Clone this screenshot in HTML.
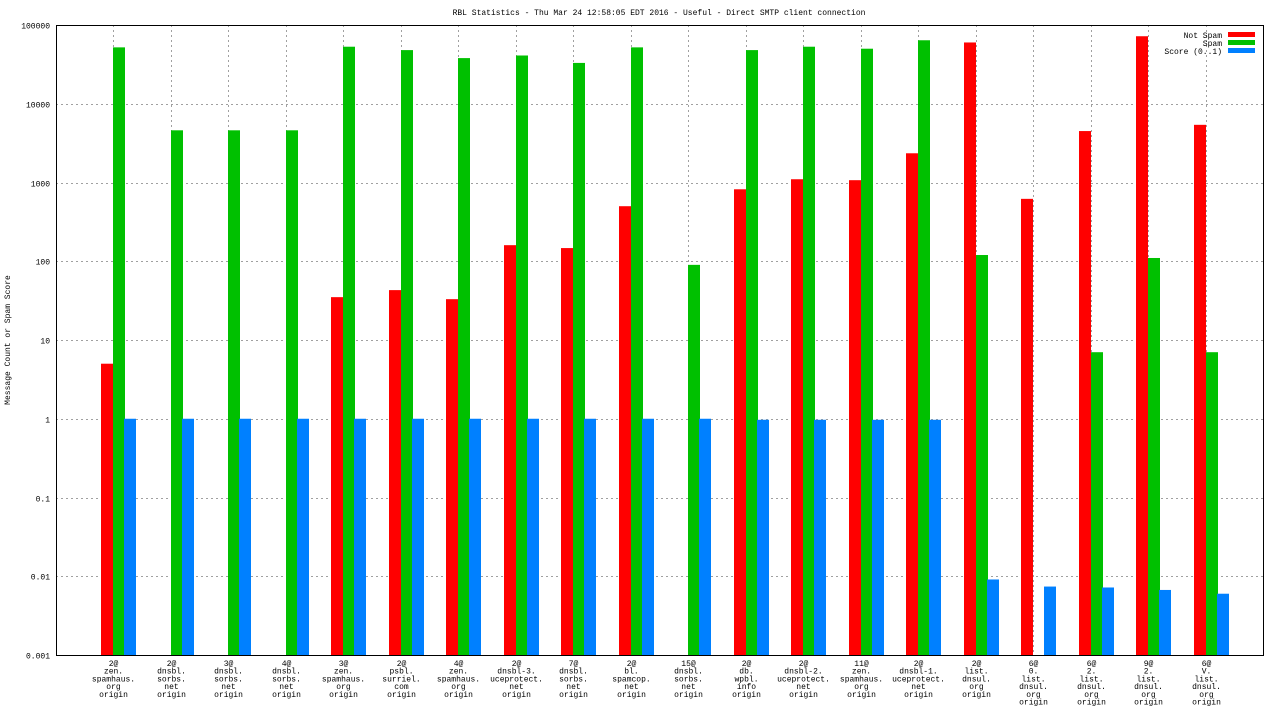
<!DOCTYPE html>
<html><head><meta charset="utf-8"><style>
body{margin:0;background:#fff;}
svg text{font-family:"Liberation Mono",monospace;font-size:8px;fill:#000;}
</style></head><body>
<svg id="chart" width="1280" height="720" xmlns="http://www.w3.org/2000/svg"></svg>
<script>
const categories=[
["2@","zen.","spamhaus.","org","origin"],["2@","dnsbl.","sorbs.","net","origin"],["3@","dnsbl.","sorbs.","net","origin"],["4@","dnsbl.","sorbs.","net","origin"],["3@","zen.","spamhaus.","org","origin"],["2@","psbl.","surriel.","com","origin"],["4@","zen.","spamhaus.","org","origin"],["2@","dnsbl-3.","uceprotect.","net","origin"],["7@","dnsbl.","sorbs.","net","origin"],["2@","bl.","spamcop.","net","origin"],["15@","dnsbl.","sorbs.","net","origin"],["2@","db.","wpbl.","info","origin"],["2@","dnsbl-2.","uceprotect.","net","origin"],["11@","zen.","spamhaus.","org","origin"],["2@","dnsbl-1.","uceprotect.","net","origin"],["2@","list.","dnsul.","org","origin"],["6@","0.","list.","dnsul.","org","origin"],["6@","2.","list.","dnsul.","org","origin"],["9@","2.","list.","dnsul.","org","origin"],["6@","V.","list.","dnsul.","org","origin"]];
const notSpam=[5,null,null,null,35,43,33,160,147,500,null,820,1100,1070,2350,60000,620,4500,72000,5400];
const spam=[52000,4600,4600,4600,53000,48000,38000,41000,33000,52000,90,48000,53000,50000,64000,120,null,7,110,7];
const score=[1,1,1,1,1,1,1,1,1,1,1,0.97,0.97,0.97,0.97,0.0091,0.0074,0.0072,0.0067,0.006];
const yTicks=[0.001,0.01,0.1,1,10,100,1000,10000,100000];
const yTickLabels=["0.001","0.01","0.1","1","10","100","1000","10000","100000"];

const svg=document.getElementById('chart');const NS='http://www.w3.org/2000/svg';
const L=56,R=1263,T=25,B=655;
const x=i=>L+(R-L)/21*(i+1);
const y=v=>B-(Math.log10(v)+3)/8*(B-T);
function mk(tag,attrs,parent){const e=document.createElementNS(NS,tag);for(const k in attrs)e.setAttribute(k,attrs[k]);(parent||svg).appendChild(e);return e;}
yTicks.forEach((v,i)=>{const yy=Math.round(y(v))+0.5;
 if(i>0&&i<yTicks.length-1){const g=mk('line',{x1:L,x2:R,y1:yy,y2:yy,stroke:'#a0a0a0','stroke-dasharray':'2,3','stroke-width':1});
 
 }
 const t=mk('text',{x:L-6,y:yy+3,'text-anchor':'end'});t.textContent=yTickLabels[i];
 
 });
categories.forEach((c,i)=>{const xx=Math.round(x(i))+0.5;
 const g=mk('line',{x1:xx,x2:xx,y1:T,y2:B,stroke:'#a0a0a0','stroke-dasharray':'2,3','stroke-width':1});
 
 
 c.forEach((ln,j)=>{const t=mk('text',{x:xx,y:666+j*7.7,'text-anchor':'middle'});t.textContent=ln;
 
 });});
const series=[[notSpam,'#ff0000',-12,'bar-not-spam'],[spam,'#00c000',0,'bar-spam'],[score,'#0080ff',11,'bar-score']];
series.forEach(([vals,col,off,name])=>{vals.forEach((v,i)=>{if(v==null)return;
 const x0=Math.round(x(i))+off,yt=y(v);
 const r=mk('rect',{x:x0,y:yt,width:12,height:B-yt,fill:col});
 
 });});
const bd=mk('rect',{x:L+0.5,y:T+0.5,width:R-L,height:B-T,fill:'none',stroke:'#000'});


const ti=mk('text',{x:659,y:15,'text-anchor':'middle','font-size':'8.3'});ti.textContent='RBL Statistics - Thu Mar 24 12:58:05 EDT 2016 - Useful - Direct SMTP client connection';


const yt=mk('text',{x:10,y:340,'text-anchor':'middle',transform:'rotate(-90 10 340)'});yt.textContent='Message Count or Spam Score';


[['Not Spam','#ff0000'],['Spam','#00c000'],['Score (0..1)','#0080ff']].forEach(([lab,col],i)=>{
 const t=mk('text',{x:1222,y:38+i*8,'text-anchor':'end'});t.textContent=lab;
 
 
 const r=mk('rect',{x:1228,y:32+i*8,width:27,height:5,fill:col});
 
 });
</script>
</body></html>
